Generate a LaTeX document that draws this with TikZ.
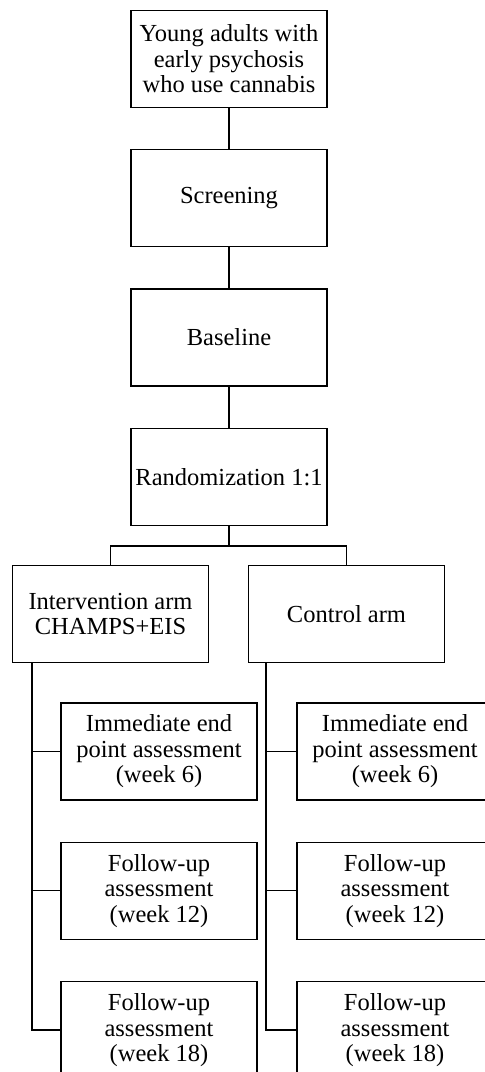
\documentclass[tikz,border=0pt]{standalone}
\usepackage{fontspec}
\setmainfont{Liberation Serif}
\usetikzlibrary{positioning}
\tikzset{box/.style={draw, line width=1.3pt, minimum width=196pt, minimum height=97pt,
           inner sep=2pt, align=center, font=\fontsize{24.5}{25.5}\selectfont},
         link/.style={draw, line width=1.3pt}}

\begin{document}
\begin{tikzpicture}[x=1pt, y=-1pt, node distance=41pt]
  \useasboundingbox (0,0) rectangle (485,1072);
  % main column
  \node[box] (pop) at (229,59) {Young adults with\\early psychosis\\who use cannabis};
  \node[box, below=of pop] (scr) {Screening};
  \node[box, below=of scr] (base) {Baseline};
  \node[box, below=of base] (rand) {Randomization 1:1};
  % arms
  \node[box] (int) at (110.5,614) {Intervention arm\\CHAMPS+EIS};
  \node[box] (ctl) at (346.5,614) {Control arm};
  % assessments
  \node[box] (int6) at (159,751.5) {Immediate end\\point assessment\\(week 6)};
  \node[box, below=of int6] (int12) {Follow-up\\assessment\\(week 12)};
  \node[box, below=of int12] (int18) {Follow-up\\assessment\\(week 18)};
  \node[box] (ctl6) at (395,751.5) {Immediate end\\point assessment\\(week 6)};
  \node[box, below=of ctl6] (ctl12) {Follow-up\\assessment\\(week 12)};
  \node[box, below=of ctl12] (ctl18) {Follow-up\\assessment\\(week 18)};

  \draw[link] (pop) -- (scr);
  \draw[link] (scr) -- (base);
  \draw[link] (base) -- (rand);
  \draw[link, line width=2pt] (rand.south) -- ++(0,20) coordinate (fork);
  \draw[link] (int.north) |- (fork) -| (ctl.north);

  \coordinate[xshift=20pt] (ispine) at (int.south west);
  \coordinate[xshift=18pt] (cspine) at (ctl.south west);
  \draw[link] (ispine) |- (int6.west);
  \draw[link] (ispine) |- (int12.west);
  \draw[link] (ispine) |- (int18.west);
  \draw[link] (cspine) |- (ctl6.west);
  \draw[link] (cspine) |- (ctl12.west);
  \draw[link] (cspine) |- (ctl18.west);
\end{tikzpicture}
\end{document}
